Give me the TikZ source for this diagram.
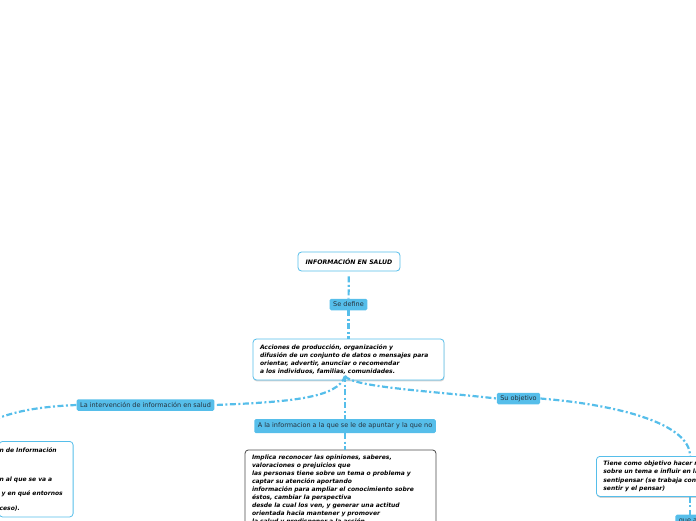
\documentclass[tikz,border=0pt]{standalone}
\usepackage{fontspec}
\setmainfont{DejaVu Sans}
\usepackage{xcolor}
\usetikzlibrary{shadows}

\definecolor{mapblue}{HTML}{56BEEA}
\definecolor{mapink}{HTML}{26323C}
\definecolor{mapgray}{HTML}{4A4A4A}

\begin{document}
\begin{tikzpicture}[
    x=1pt, y=-1pt,
    link/.style={mapblue, line width=2.2pt, dash pattern=on 6pt off 2.5pt on 2pt off 2.5pt},
    topic/.style={draw=mapblue, fill=white, rounded corners=3.5pt, line width=0.8pt, text=black,
        font=\fontsize{6}{8}\selectfont\bfseries\itshape, align=left, inner xsep=7pt, inner ysep=4pt},
    tag/.style={fill=mapblue, rounded corners=1.5pt, text=mapink, font=\fontsize{6.5}{7}\selectfont,
        inner xsep=3.5pt, inner ysep=0pt, minimum height=11.5pt},
    lifted/.style={drop shadow={shadow xshift=0.4pt, shadow yshift=-1.4pt, opacity=0.35}},
]
\useasboundingbox (0,0) rectangle (696,520);
\clip (0,0) rectangle (696,520);

% Main topic
\node[topic, minimum width=102pt, minimum height=19pt, align=center, font=\fontsize{6.2}{7}\selectfont\bfseries\itshape] (root) at (349,261.5) {INFORMACIÓN EN SALUD};
\node[tag] (sedef) at (348.5,304.5) {Se define};

% Definition
\node[topic, lifted, text width=177pt, minimum height=41pt] (acciones) at (348.5,359.5)
    {Acciones de producción, organización y\\
     difusión de un conjunto de datos o mensajes para\\
     orientar, advertir, anunciar o recomendar\\
     a los individuos, familias, comunidades.};
\coordinate (hub) at (345,376);

% Branch labels
\node[tag] (interv) at (145.5,405) {La intervención de información en salud};
\node[tag, minimum height=14pt] (apuntar) at (345,426) {A la informacion a la que se le de apuntar y la que no};
\node[tag] (objetivo) at (518.5,398.5) {Su objetivo};

% Sub topics
\node[topic, draw=mapgray, anchor=north, text width=177pt, inner ysep=5pt] (implica) at (340.5,449.5)
    {Implica reconocer las opiniones, saberes,\\
     valoraciones o prejuicios que\\
     las personas tiene sobre un tema o problema y\\
     captar su atención aportando\\
     información para ampliar el conocimiento sobre\\
     éstos, cambiar la perspectiva\\
     desde la cual los ven, y generar una actitud\\
     orientada hacia mantener y promover\\
     la salud y predisponer a la acción\\[30pt]};
\node[topic, anchor=north east, text width=73pt, inner xsep=0.5pt, inner ysep=6pt,
    font=\fontsize{6}{14.5}\selectfont\bfseries\itshape] (leftbox) at (73.5,441)
    {n de Información\\
     \mbox{}\\
     n al que se va a\\
     \ y en qué entornos\\
     ceso).\\[30pt]};
\coordinate (leftin) at (-40,441);
\node[topic, lifted, anchor=north west, text width=174pt, minimum height=40pt, inner ysep=4pt,
    font=\fontsize{6}{8.6}\selectfont\bfseries\itshape] (tiene) at (596,456)
    {Tiene como objetivo hacer r\\
     sobre un tema e influir en la\\
     sentipensar (se trabaja con\\
     sentir y el pensar)};
\node[tag, anchor=north, minimum height=13pt] (queap) at (690,514.5) {que ap};

% Connectors
\draw[link, shorten <=5pt] (root) -- (sedef);
\draw[link] (sedef) -- (acciones);
\draw[link] (hub) .. controls (338,398) and (290,402) .. (interv.east);
\draw[link] (interv.west) .. controls (30,407) and (-10,414) .. (leftin);
\draw[link] (hub) -- (apuntar.north);
\draw[link] (apuntar.south) -- (apuntar.south |- implica.north);
\draw[link] (hub) .. controls (352,387) and (430,391) .. (objetivo.west);
\draw[link] (objetivo.east) .. controls (620,405) and (690,424) .. (tiene.north west -| queap.north);
\draw[link] (tiene.south west -| queap.north) -- (queap.north);
\end{tikzpicture}
\end{document}
